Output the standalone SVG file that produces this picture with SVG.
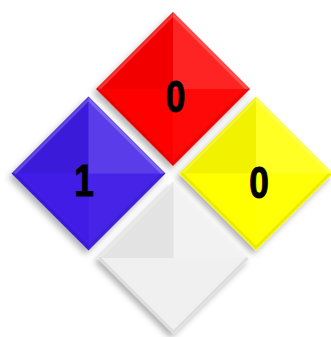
<svg xmlns="http://www.w3.org/2000/svg" xmlns:xlink="http://www.w3.org/1999/xlink" width="331" height="337" viewBox="0 0 331 337">
  <defs>
    <filter id="shadow" x="-30%" y="-30%" width="160%" height="160%">
      <feDropShadow dx="-3" dy="4" stdDeviation="3" flood-color="#000" flood-opacity="0.3"/>
    </filter>
    <g id="shade">
      <polygon points="0,-77 -77,0 0,0" fill="#000" fill-opacity="0.05"/>
      <polygon points="0,-77 77,0 0,0" fill="#fff" fill-opacity="0.14"/>
      <polygon points="77,0 0,77 0,0" fill="#fff" fill-opacity="0.03"/>
      <polyline points="-74,0 0,-74 74,0" fill="none" stroke="#fff" stroke-opacity="0.2" stroke-width="3"/>
      <polyline points="-74,0 0,74 74,0" fill="none" stroke="#000" stroke-opacity="0.08" stroke-width="3"/>
    </g>
  </defs>
  <style>
    .num { font-family: "Liberation Sans", Arial, sans-serif; font-weight: bold; font-size: 44px; fill: #000; stroke: #000; stroke-width: 1px; text-anchor: middle; }
    .dia { filter: url(#shadow); }
  </style>
  <rect width="331" height="337" fill="#fff"/>
  <g id="connectors"/>
  <g id="health" transform="translate(88.5,173.5)">
    <polygon class="dia" points="0,-77 77,0 0,77 -77,0" fill="#3f1fe6"/>
    <use xlink:href="#shade"/>
  </g>
  <g id="flammability" transform="translate(173,89)">
    <polygon class="dia" points="0,-77 77,0 0,77 -77,0" fill="#ff0000"/>
    <use xlink:href="#shade"/>
  </g>
  <g id="instability" transform="translate(256,173.5)">
    <polygon class="dia" points="0,-77 77,0 0,77 -77,0" fill="#ffff00"/>
    <use xlink:href="#shade"/>
  </g>
  <g id="special" transform="translate(173.5,258)">
    <polygon class="dia" points="0,-76 76,0 0,76 -76,0" fill="#f0f0f0"/>
    <use xlink:href="#shade"/>
  </g>
  <g id="labels">
    <text class="num" transform="translate(175.5,112) scale(0.8,1)">0</text>
    <text class="num" transform="translate(84,196) scale(0.8,1)">1</text>
    <text class="num" transform="translate(259,198) scale(0.8,1)">0</text>
  </g>
</svg>
